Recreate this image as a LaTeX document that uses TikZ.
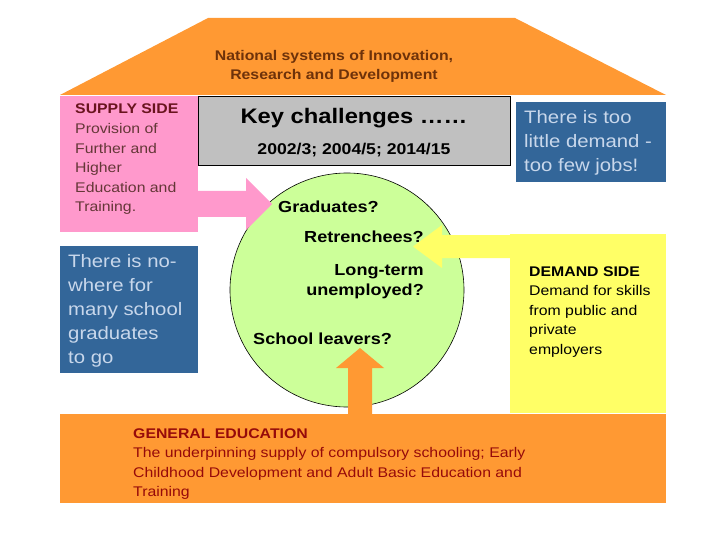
\documentclass[tikz,border=0pt]{standalone}
\usepackage{fontspec}
\setmainfont{Liberation Sans}[FakeStretch=1.13]
\definecolor{roofOrange}{RGB}{255,153,51}
\definecolor{supplyPink}{RGB}{255,153,204}
\definecolor{keyGray}{RGB}{192,192,192}
\definecolor{slideBlue}{RGB}{51,102,153}
\definecolor{paleBlue}{RGB}{200,215,235}
\definecolor{demandYellow}{RGB}{255,255,102}
\definecolor{poolGreen}{RGB}{204,255,153}
\definecolor{roofText}{RGB}{110,50,10}
\definecolor{supplyHead}{RGB}{105,20,30}
\definecolor{supplyBody}{RGB}{100,55,55}
\definecolor{eduText}{RGB}{150,10,10}
\begin{document}
\begin{tikzpicture}[x=1pt,y=-1pt,
    txt/.style={inner sep=0pt, align=left, anchor=base west},
    small/.style={font=\fontsize{14}{19.5}\selectfont},
    big/.style={font=\fontsize{18}{24}\selectfont, text=paleBlue},
    who/.style={inner sep=0pt, font=\bfseries\fontsize{16}{20}\selectfont}]
\useasboundingbox (0,0) rectangle (720,540);
% roof
\fill[roofOrange] (60,95) -- (208,18) -- (515,18) -- (666,95) -- cycle;
% (multi-line nodes sit on the baseline of their last line)
\node[txt, align=center, anchor=base, font=\bfseries\fontsize{14}{19}\selectfont, text=roofText] (roofLbl) at (334,80)
    {National systems of Innovation,\\Research and Development};
% walls
\fill[supplyPink] (60,96) rectangle (198,232);
\filldraw[fill=keyGray, draw=black, line width=0.8pt] (198,96) rectangle (510,165);
\fill[slideBlue] (516,102) rectangle (666,182);
\fill[slideBlue] (60,246) rectangle (198,373);
\fill[demandYellow] (510,234) rectangle (666,413);
\fill[roofOrange] (60,414) rectangle (666,503);
% texts on the walls
\node[txt, small, text=supplyBody] (supplyLbl) at (75,211.5)
    {\textcolor{supplyHead}{\bfseries SUPPLY SIDE}\\Provision of\\Further and\\Higher\\Education and\\Training.};
\node[inner sep=0pt, anchor=base, font=\bfseries\fontsize{21}{24}\selectfont] (keyLbl) at (354,124) {Key challenges ……};
\node[inner sep=0pt, anchor=base, font=\bfseries\fontsize{15.6}{18}\selectfont] (yearsLbl) at (354,155) {2002/3; 2004/5; 2014/15};
\node[txt, big] (jobsLbl) at (524,172) {There is too\\little demand -\\too few jobs!};
\node[txt, big] (nowhereLbl) at (68,363) {There is no-\\where for\\many school\\graduates\\to go};
\node[txt, small] (demandLbl) at (529,354)
    {\textbf{DEMAND SIDE}\\Demand for skills\\from public and\\private\\employers};
\node[txt, small, text=eduText] (eduLbl) at (133,496.5)
    {\textbf{GENERAL EDUCATION}\\The underpinning supply of compulsory schooling; Early\\Childhood Development and Adult Basic Education and\\Training};
% the pool
\node[circle, draw=black, fill=poolGreen, line width=0.6pt, minimum size=234pt, inner sep=0pt] (pool) at (347,290) {};
\node[who, anchor=base west] (gradLbl) at (278,212) {Graduates?};
\node[who, anchor=base east] (retrLbl) at (424,243) {Retrenchees?};
\node[who, anchor=base east, align=right] (longLbl) at (424,295) {Long-term\\unemployed?};
\node[who, anchor=base west] (schoolLbl) at (253,344) {School leavers?};
% block arrows into the pool
\fill[supplyPink] (198,191) -- (246,191) -- (246,178) -- (272,204) -- (246,230) -- (246,217) -- (198,217) -- cycle;
\fill[demandYellow] (510,235) -- (442,235) -- (442,225) -- (413,246.5) -- (442,268) -- (442,258) -- (510,258) -- cycle;
\fill[roofOrange] (348,414) -- (348,368) -- (336,368) -- (360,348) -- (384,368) -- (372,368) -- (372,414) -- cycle;
\end{tikzpicture}
\end{document}
